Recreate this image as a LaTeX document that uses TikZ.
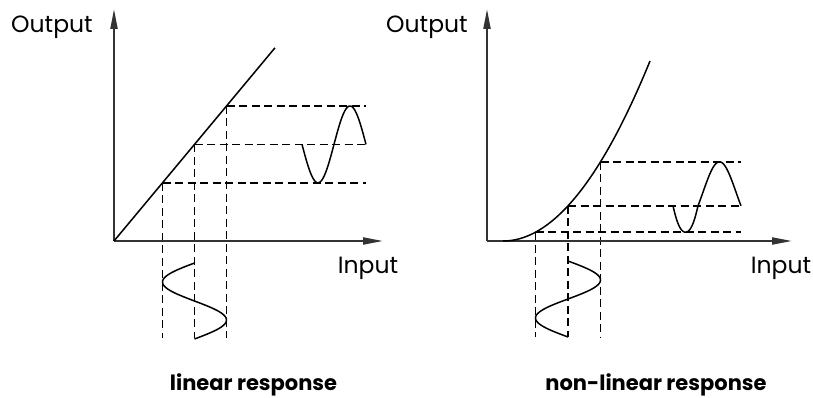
\documentclass[tikz,border=0pt]{standalone}
\usepackage{fontspec}
\setmainfont{Poppins}
\usetikzlibrary{arrows.meta}
\tikzset{
  axisline/.style={line width=2pt, draw=black!80, -{Triangle[length=20pt,width=7pt]}},
  curve/.style={line width=1.5pt, draw=black},
  guide/.style={line width=1.5pt, draw=black, dash pattern=on 8pt off 4.5pt},
  lbl/.style={inner sep=0pt, anchor=base, font=\fontsize{23.5}{28}\selectfont},
  ttl/.style={inner sep=0pt, anchor=base, font=\fontsize{21}{25}\selectfont\bfseries}
}
\begin{document}
\begin{tikzpicture}[x=1pt,y=-1pt]
\useasboundingbox (0,0) rectangle (813,398);
% ---------- left panel ----------
\coordinate (O1) at (114,241);
\coordinate (Y1) at (114,9);
\coordinate (X1) at (383,241);
\coordinate (L1) at (275,47.8);
\coordinate (A1) at (162.5,182.8);
\coordinate (B1) at (194.5,144.4);
\coordinate (C1) at (226.5,106);
\coordinate (HE1) at (366,0);
\coordinate (VE1) at (0,338);
\foreach \p in {A1,B1,C1} {
  \draw[guide] (\p) -- (\p -| HE1);
  \draw[guide] (\p) -- (\p |- VE1);
}
\draw[axisline] (O1) -- (Y1);
\draw[axisline] (O1) -- (X1);
\draw[curve] (O1) -- (L1);
\draw[curve] plot[domain=0:64, samples=80, smooth] ({302+\x}, {144.4+38.4*sin(5.625*\x)});
\draw[curve] plot[domain=0:76, samples=80, smooth] ({194.5-32*sin(4.7368*\x)}, {263+\x});
\node[lbl] (out1) at (52,33) {Output};
\node[lbl] (in1) at (368,273) {Input};
\node[ttl] (t1) at (253.5,390.5) {linear response};
% ---------- right panel ----------
\coordinate (O2) at (487,241);
\coordinate (Y2) at (487,9);
\coordinate (X2) at (792,241);
\coordinate (A2) at (535.5,232.2);
\coordinate (B2) at (568,205.8);
\coordinate (C2) at (600.5,161.8);
\coordinate (HE2) at (741,0);
\coordinate (VE2) at (0,337);
\foreach \p in {A2,B2,C2} {
  \draw[guide] (\p) -- (\p -| HE2);
  \draw[guide] (\p) -- (\p |- VE2);
}
\draw[axisline] (O2) -- (Y2);
\draw[axisline] (O2) -- (X2);
\draw[curve] plot[domain=0:147, samples=80, smooth] ({503+\x}, {241-180*(\x/147)*(\x/147)});
\draw[curve] plot[domain=0:180, samples=50, smooth] ({673+0.13889*\x}, {241-180*((65-32.5*sin(\x))/147)*((65-32.5*sin(\x))/147)})
  -- plot[domain=180:360, samples=50, smooth] ({698+0.23889*(\x-180)}, {241-180*((65-32.5*sin(\x))/147)*((65-32.5*sin(\x))/147)});
\draw[curve] plot[domain=0:76, samples=80, smooth] ({568+32.5*sin(4.7368*\x)}, {261+\x});
\node[lbl] (out2) at (427,33) {Output};
\node[lbl] (in2) at (781,273) {Input};
\node[ttl] (t2) at (656,390.5) {non-linear response};
\end{tikzpicture}
\end{document}
